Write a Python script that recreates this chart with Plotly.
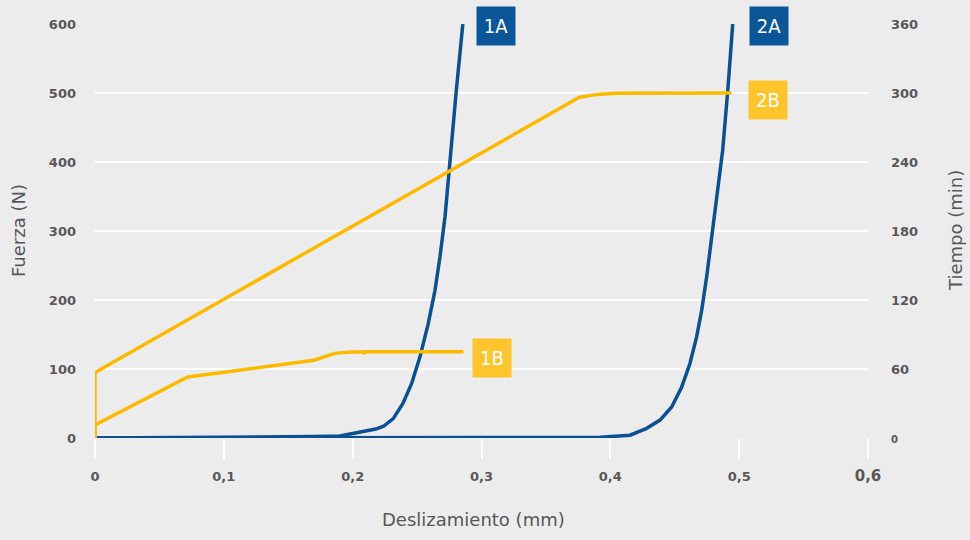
import plotly.graph_objects as go

# Fuerza (N) vs deslizamiento (mm) - ensayos 1A y 2A
x_1a = [0, 0.07, 0.15, 0.17, 0.19, 0.206, 0.218, 0.224, 0.2315, 0.239, 0.2458, 0.2523,
        0.2587, 0.2639, 0.2678, 0.2717, 0.2742, 0.2763, 0.2805, 0.2855]
y_1a = [0, 0.5, 1.5, 2, 3, 8, 13, 17, 28, 50, 79, 118, 166, 214, 263, 321, 369, 417, 505, 600]

x_2a = [0, 0.2, 0.35, 0.392, 0.4153, 0.4282, 0.4386, 0.4476, 0.4554, 0.4618, 0.467,
        0.4709, 0.4748, 0.4781, 0.4812, 0.4846, 0.4872, 0.4912, 0.495]
y_2a = [0, 0, 0, 1, 4, 14, 26, 45, 74, 108, 147, 185, 234, 282, 330, 379, 417, 505, 600]

# Tiempo (min) vs deslizamiento (mm) - ensayos 1B y 2B
x_1b = [0, 0, 0.072, 0.164, 0.17, 0.186, 0.199, 0.208, 0.209, 0.21, 0.286]
y_1b = [0, 11.4, 53, 66.4, 67.6, 73.6, 74.8, 74.8, 74.0, 75, 75]

x_2b = [0, 0, 0.376, 0.39, 0.405, 0.494]
y_2b = [0, 57, 296.3, 298.8, 299.8, 300]

x_ticks = [0, 0.1, 0.2, 0.3, 0.4, 0.5, 0.6]
x_ticktext = ['0', '0,1', '0,2', '0,3', '0,4', '0,5', '<span style="font-size:15px">0,6</span>']
y_ticks = [0, 100, 200, 300, 400, 500, 600]
y2_ticks = [0, 60, 120, 180, 240, 300, 360]
y2_ticktext = ['<span style="font-size:10px">0</span>', '60', '120', '180', '240', '300', '360']

BLUE = '#0d4f93'
BLUE_BOX = '#0b5599'
YELLOW = '#fbb900'
YELLOW_BOX = '#fec42c'
BG = '#ececec'
GREY = '#58585a'

fig = go.Figure()

fig.add_trace(go.Scatter(x=x_1a, y=y_1a, mode='lines', line=dict(color=BLUE, width=3.5)))
fig.add_trace(go.Scatter(x=x_2a, y=y_2a, mode='lines', line=dict(color=BLUE, width=3.5)))
fig.add_trace(go.Scatter(x=x_1b, y=y_1b, mode='lines', yaxis='y2',
                         line=dict(color=YELLOW, width=3.5)))
fig.add_trace(go.Scatter(x=x_2b, y=y_2b, mode='lines', yaxis='y2',
                         line=dict(color=YELLOW, width=3.5)))

label_font = dict(family='DejaVu Sans Condensed, Liberation Sans Narrow, sans-serif',
                  size=20, color='white')

# etiquetas ancladas al final de cada serie
labels = [
    ('1A', x_1a[-1], y_1a[-1], 'y', BLUE_BOX, 33, -2),
    ('2A', x_2a[-1], y_2a[-1], 'y', BLUE_BOX, 36, -2),
    ('2B', x_2b[-1], y_2b[-1], 'y2', YELLOW_BOX, 37, -7),
    ('1B', x_1b[-1], y_1b[-1], 'y2', YELLOW_BOX, 29, -6),
]
for txt, lx, ly, yref, col, xs, ys in labels:
    fig.add_annotation(x=lx, y=ly, xref='x', yref=yref, text=txt, showarrow=False,
                       xshift=xs, yshift=ys, width=36, height=36, bgcolor=col,
                       font=label_font, align='center', valign='middle')

title_font = dict(family='DejaVu Sans, sans-serif', size=18, color=GREY)
fig.add_annotation(x=0, xref='paper', xshift=-77, xanchor='center', y=0.5, yref='paper',
                   yanchor='middle', text='Fuerza (N)',
                   textangle=-90, showarrow=False, font=title_font)
fig.add_annotation(x=0.49, xref='paper', xanchor='center', y=0, yref='paper',
                   yanchor='middle', yshift=-81,
                   text='Deslizamiento (mm)', showarrow=False, font=title_font)
fig.add_annotation(x=1, xref='paper', xanchor='center', xshift=87, y=0.5, yref='paper',
                   yanchor='middle', text='Tiempo (min)', textangle=-90,
                   showarrow=False, font=title_font)

tick_font = dict(family='DejaVu Sans, sans-serif', size=13, color=GREY, weight='bold')

fig.update_layout(
    width=970, height=540,
    margin=dict(l=95, r=102, t=24, b=102),
    paper_bgcolor=BG, plot_bgcolor=BG,
    showlegend=False,
    xaxis=dict(range=[0, 0.6], tickvals=x_ticks, ticktext=x_ticktext,
               showgrid=False, zeroline=False, showline=False,
               ticks='outside', ticklen=20, tickwidth=2, tickcolor='white',
               ticklabelstandoff=6, tickfont=tick_font),
    yaxis=dict(range=[0, 600], tickvals=y_ticks, showgrid=True, gridcolor='white',
               gridwidth=2, zeroline=False, showline=False, ticks='',
               ticklabelstandoff=18, tickfont=tick_font),
    yaxis2=dict(range=[0, 360], tickvals=y2_ticks, ticktext=y2_ticktext,
                overlaying='y', side='right',
                showgrid=False, zeroline=False, showline=False, ticks='',
                ticklabelstandoff=22, tickfont=tick_font),
)

fig.write_html('out.html', config={'displayModeBar': False},
               post_script="document.body.style.margin='0';")
